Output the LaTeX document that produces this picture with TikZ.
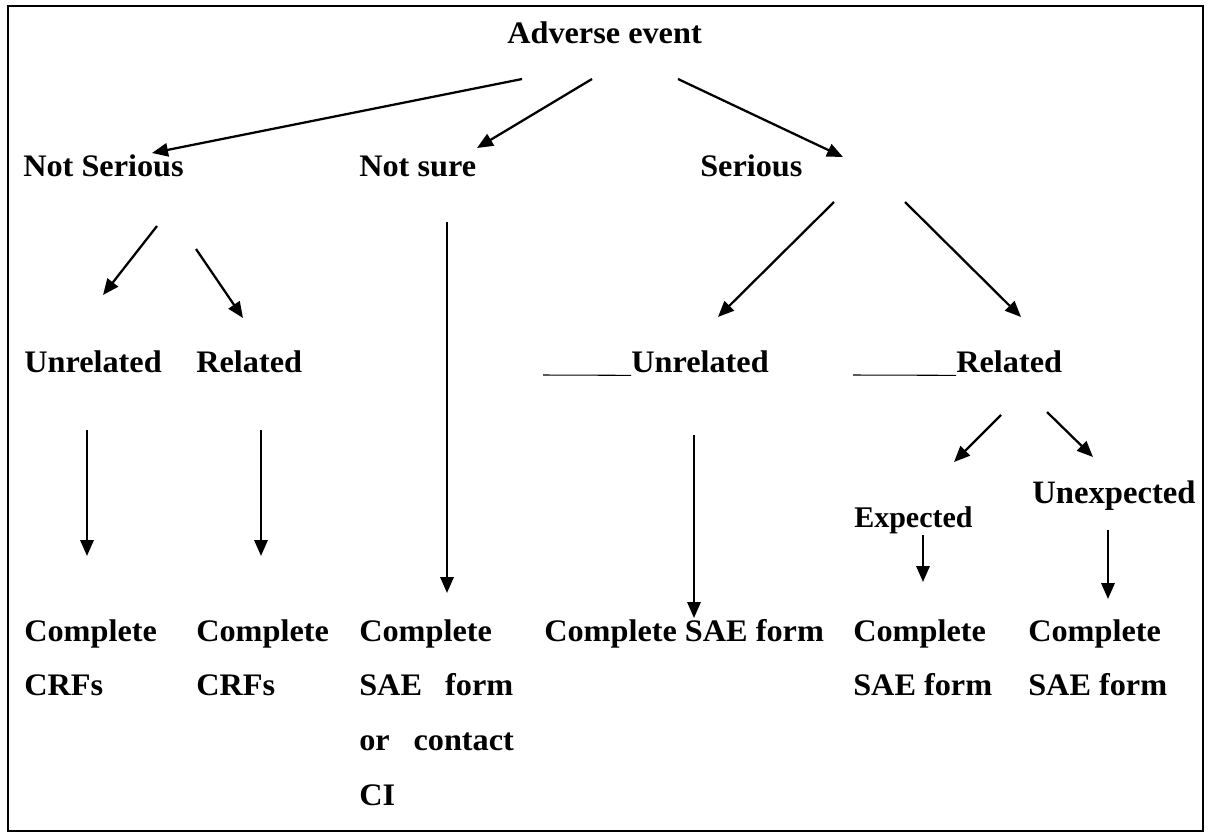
\documentclass[tikz,border=0pt]{standalone}
\usepackage{fontspec}
\setmainfont{Liberation Serif}[FakeStretch=1.03]
\newfontfamily\timesb{Liberation Serif}
\usetikzlibrary{arrows.meta}
\begin{document}
\begin{tikzpicture}[x=0.75pt,y=-0.75pt,
  lbl/.style={anchor=base west,inner sep=0pt,font=\bfseries\fontsize{23.5}{28}\selectfont},
  tlbl/.style={anchor=base west,inner sep=0pt},
  arr/.style={line width=1.7pt,-{Triangle[length=12pt,width=10pt]}},
  uline/.style={line width=0.8pt},
  frame/.style={line width=1.8pt}]
\useasboundingbox (0,0) rectangle (1211,833);
\draw[frame] (8,6) rectangle (1203,831);
% labels
\node[lbl] (ae) at (507,43) {Adverse event};
\node[lbl] (ns) at (23,176) {Not Serious};
\node[lbl] (nsu) at (359,176) {Not sure};
\node[lbl] (se) at (700,176) {Serious};
\node[lbl] (nsun) at (24,372) {Unrelated};
\node[lbl] (nsre) at (196,372) {Related};
\node[lbl] (seun) at (631,372) {Unrelated};
\node[lbl] (sere) at (956,372) {Related};
\node[tlbl,font=\timesb\bfseries\fontsize{22.5}{26}\selectfont] (exp) at (854,527) {Expected};
\node[tlbl,font=\timesb\bfseries\fontsize{24.5}{28}\selectfont] (unexp) at (1032,503) {Unexpected};
% bottom texts
\node[lbl] (c1a) at (24,641) {Complete};
\node[lbl] (c1b) at (24,695) {CRFs};
\node[lbl] (c2a) at (196,641) {Complete};
\node[lbl] (c2b) at (196,695) {CRFs};
\node[lbl] (c3a) at (359,641) {Complete};
\node[lbl] (c3b) at (359,695) {\hbox to 115.5pt{SAE\hfill form}};
\node[lbl] (c3c) at (359,750) {\hbox to 116pt{or\hfill contact}};
\node[lbl] (c3d) at (359,805) {CI};
\node[lbl] (c4a) at (544,641) {Complete SAE form};
\node[lbl] (c5a) at (853,641) {Complete};
\node[lbl] (c5b) at (853,695) {SAE form};
\node[lbl] (c6a) at (1028,641) {Complete};
\node[lbl] (c6b) at (1028,695) {SAE form};
% underlines
\coordinate (u1s) at (543,375); \coordinate (u1e) at (seun.base west);
\coordinate (u2s) at (853,375); \coordinate (u2e) at (sere.base west);
\draw[uline] (u1s) -- ([yshift=-2.5pt]u1e);
\draw[uline] (u2s) -- ([yshift=-2.5pt]u2e);
% arrow endpoints
\coordinate (a1s) at (522,79);  \coordinate (a1e) at (152,153);
\coordinate (a2s) at (592,79);  \coordinate (a2e) at (477,148);
\coordinate (a3s) at (678,79);  \coordinate (a3e) at (843,157);
\coordinate (a4s) at (157,226); \coordinate (a4e) at (103,295);
\coordinate (a5s) at (196,249); \coordinate (a5e) at (243,318);
\coordinate (a6s) at (447,222); \coordinate (a6e) at (447,593);
\coordinate (a7s) at (834,202); \coordinate (a7e) at (718,317);
\coordinate (a8s) at (905,202); \coordinate (a8e) at (1021,317);
\coordinate (a9s) at (87,430);  \coordinate (a9e) at (87,556);
\coordinate (a10s) at (261,430); \coordinate (a10e) at (261,556);
\coordinate (a11s) at (694,435); \coordinate (a11e) at (694,618);
\coordinate (a12s) at (1001,415); \coordinate (a12e) at (954,462);
\coordinate (a13s) at (1047,412); \coordinate (a13e) at (1093,457);
\coordinate (a14s) at (923,535); \coordinate (a14e) at (923,582);
\coordinate (a15s) at (1108,530); \coordinate (a15e) at (1108,599);
\foreach \i in {1,...,15} { \draw[arr] (a\i s) -- (a\i e); }
\end{tikzpicture}
\end{document}
